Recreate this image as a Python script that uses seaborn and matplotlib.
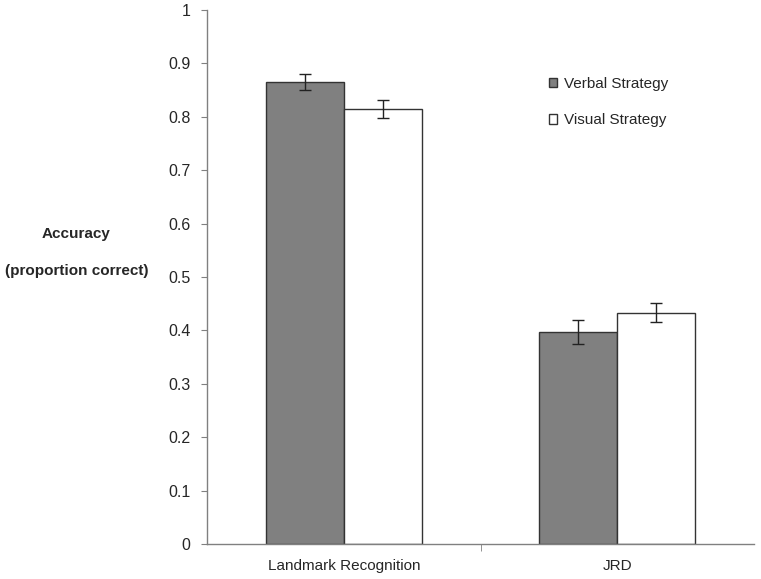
import matplotlib
matplotlib.use('Agg')
import matplotlib.pyplot as plt
import numpy as np
import pandas as pd
import seaborn as sns

# values
tasks = ['Landmark Recognition', 'JRD']
strategies = ['Verbal Strategy', 'Visual Strategy']
verbal_acc = [0.865, 0.397]
visual_acc = [0.815, 0.433]
verbal_err = [0.015, 0.023]
visual_err = [0.017, 0.018]
y_ticks = [0, 0.1, 0.2, 0.3, 0.4, 0.5, 0.6, 0.7, 0.8, 0.9, 1]
y_tick_labels = ['0', '0.1', '0.2', '0.3', '0.4', '0.5', '0.6', '0.7', '0.8', '0.9', '1']


def main():
    sns.set_style('white')
    plt.rcParams['font.family'] = ['Liberation Sans', 'DejaVu Sans']

    df = pd.DataFrame({
        'Task': tasks * 2,
        'Strategy': [strategies[0]] * len(tasks) + [strategies[1]] * len(tasks),
        'Accuracy': verbal_acc + visual_acc,
        'Error': verbal_err + visual_err,
    })

    fig = plt.figure(figsize=(7.61, 5.79), dpi=100)
    ax = fig.add_axes([0.272, 0.0604, 0.719, 0.9223])

    sns.barplot(data=df, x='Task', y='Accuracy', hue='Strategy', order=tasks, hue_order=strategies,
                palette=['#808080', '#ffffff'], edgecolor='#333333', linewidth=1.0,
                width=0.57, gap=0, errorbar=None, ax=ax)

    # error bars placed at the bar centres seaborn produced
    for container, strat in zip(ax.containers, strategies):
        sub = df[df['Strategy'] == strat].set_index('Task').loc[tasks]
        xs = [p.get_x() + p.get_width() / 2 for p in container.patches]
        ax.errorbar(xs, sub['Accuracy'], yerr=sub['Error'], fmt='none', ecolor='#222222',
                    elinewidth=1.0, capsize=4, capthick=1.0)

    ax.set_xlim(-0.5, 1.5)
    ax.set_ylim(0, 1)
    ax.set_yticks(y_ticks)
    ax.set_yticklabels(y_tick_labels, fontsize=11.5)
    ax.set_xticks([0, 1])
    ax.set_xticklabels(tasks, fontsize=11)
    ax.set_xlabel('')
    ax.set_ylabel('')
    fig.text(76.5 / 761, 1 - 252.5 / 579, 'Accuracy\n\n(proportion correct)', ha='center', va='center',
             fontsize=11, fontweight='bold', linespacing=1.38)

    # minor tick between categories on the x axis
    ax.set_xticks([0.5], minor=True)
    ax.tick_params(axis='x', which='minor', direction='out', length=5, color='#808080', bottom=True)
    ax.tick_params(axis='x', which='major', length=0, pad=11)
    ax.tick_params(axis='y', direction='out', length=4, color='#808080', left=True, pad=8)

    sns.despine(ax=ax, top=True, right=True)
    for side in ['left', 'bottom']:
        ax.spines[side].set_color('#808080')
        ax.spines[side].set_linewidth(1.0)

    leg = ax.legend(loc='upper left', bbox_to_anchor=(0.6, 0.9), frameon=False, fontsize=11,
                    handlelength=0.55, handleheight=0.55, handletextpad=0.45, labelspacing=1.45)
    for h in leg.legend_handles:
        h.set_edgecolor('#333333')

    fig.savefig('out.png', dpi=100)


if __name__ == '__main__':
    main()
